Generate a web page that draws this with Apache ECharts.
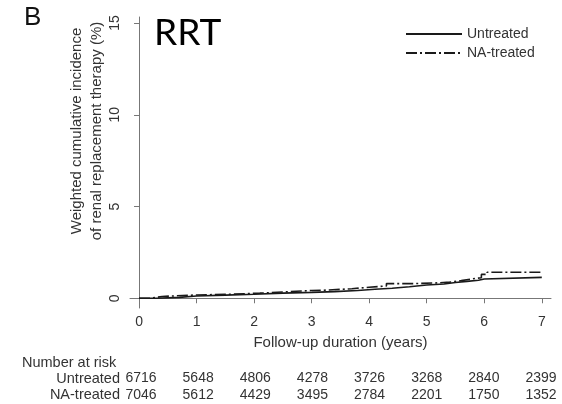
<!DOCTYPE html>
<html>
<head>
<meta charset="utf-8">
<script src="https://cdn.jsdelivr.net/npm/echarts@6/dist/echarts.min.js"></script>
<style>
  html, body { margin: 0; padding: 0; background: #fff; }
  #chart { width: 562px; height: 404px; }
</style>
</head>
<body>
<div id="chart"></div>
<script>
// Weighted cumulative incidence of RRT (%), step curves by follow-up year
const untreatedTimes  = [0, 0.3, 0.7, 1.0, 1.5, 2.0, 2.5, 3.0, 3.4, 3.8, 4.1, 4.4, 4.7, 5.0, 5.3, 5.5, 5.7, 5.9, 6.0, 7.0];
const untreatedValues = [0, 0.05, 0.12, 0.17, 0.22, 0.28, 0.32, 0.36, 0.42, 0.49, 0.55, 0.63, 0.72, 0.78, 0.86, 0.92, 0.98, 1.05, 1.14, 1.14];
const treatedTimes    = [0, 0.2, 0.4, 1.0, 1.6, 2.1, 2.6, 3.0, 3.3, 3.7, 4.0, 4.3, 4.8, 5.2, 5.4, 5.6, 5.8, 5.95, 6.05, 7.0];
const treatedValues   = [0, 0.10, 0.18, 0.22, 0.28, 0.36, 0.42, 0.45, 0.52, 0.60, 0.67, 0.80, 0.84, 0.88, 0.96, 1.06, 1.12, 1.30, 1.42, 1.42];

// Axis ticks
const xTicks = [0, 1, 2, 3, 4, 5, 6, 7];
const yTicks = [0, 5, 10, 15];

// Number at risk by year
const riskYears     = [0, 1, 2, 3, 4, 5, 6, 7];
const riskUntreated = [6716, 5648, 4806, 4278, 3726, 3268, 2840, 2399];
const riskTreated   = [7046, 5612, 4429, 3495, 2784, 2201, 1750, 1352];

const seriesNames = ['Untreated', 'NA-treated'];

const pairs = (t, v) => t.map((x, i) => [x, v[i]]);

const FONT = '"Liberation Sans", Arial, sans-serif';
const TXT = '#333';
const AX = '#777';

const chart = echarts.init(document.getElementById('chart'), null, { renderer: 'canvas' });

chart.setOption({
  animation: false,
  backgroundColor: '#fff',
  textStyle: { fontFamily: FONT },
  grid: [
    { left: 130, right: 11, top: 17, bottom: 96, containLabel: false },
    { left: 141, right: 21, top: 387, height: 1, show: false }
  ],
  legend: {
    orient: 'vertical',
    left: 400,
    top: 22,
    itemWidth: 56,
    itemHeight: 12,
    itemGap: 5,
    data: seriesNames,
    itemStyle: { opacity: 0 },
    textStyle: { color: TXT, fontSize: 14, fontFamily: FONT }
  },
  xAxis: [
    {
      type: 'value', gridIndex: 0,
      min: -0.157, max: 7.16,
      name: 'Follow-up duration (years)',
      nameLocation: 'middle', nameGap: 27,
      nameTextStyle: { color: TXT, fontSize: 15, fontFamily: FONT },
      splitLine: { show: false },
      axisLine: { show: true, lineStyle: { color: AX, width: 1 } },
      axisTick: { show: true, length: 5, customValues: xTicks, lineStyle: { color: AX } },
      axisLabel: { customValues: xTicks, color: TXT, fontSize: 14, margin: 7, fontFamily: FONT }
    },
    {
      type: 'category', gridIndex: 1, position: 'top',
      data: riskYears.map((y, i) => String(riskUntreated[i])),
      boundaryGap: false,
      axisLine: { show: false }, axisTick: { show: false }, splitLine: { show: false },
      axisLabel: { interval: 0, color: TXT, fontSize: 14, margin: 2, fontFamily: FONT }
    },
    {
      type: 'category', gridIndex: 1, position: 'bottom',
      data: riskYears.map((y, i) => String(riskTreated[i])),
      boundaryGap: false,
      axisLine: { show: false }, axisTick: { show: false }, splitLine: { show: false },
      axisLabel: { interval: 0, color: TXT, fontSize: 14, margin: 0, fontFamily: FONT }
    }
  ],
  yAxis: [
    {
      type: 'value', gridIndex: 0,
      min: -0.53, max: 15.33,
      splitLine: { show: false },
      axisLine: { show: true, lineStyle: { color: AX, width: 1 } },
      axisTick: { show: true, length: 5, customValues: yTicks, lineStyle: { color: AX } },
      axisLabel: { customValues: yTicks, rotate: 90, color: TXT, fontSize: 14, margin: 8, fontFamily: FONT }
    },
    {
      type: 'value', gridIndex: 1, show: false
    }
  ],
  series: [
    {
      name: seriesNames[0], type: 'line', xAxisIndex: 0, yAxisIndex: 0,
      step: 'end', symbol: 'none',
      data: pairs(untreatedTimes, untreatedValues),
      lineStyle: { color: '#1a1a1a', width: 1.6 },
      itemStyle: { color: '#1a1a1a' }
    },
    {
      name: seriesNames[1], type: 'line', xAxisIndex: 0, yAxisIndex: 0,
      step: 'end', symbol: 'none',
      data: pairs(treatedTimes, treatedValues),
      lineStyle: { color: '#1a1a1a', width: 1.6, type: [11, 3, 2, 3] },
      itemStyle: { color: '#1a1a1a' }
    }
  ],
  graphic: [
    { type: 'text', left: 24, top: 5, style: { text: 'B', font: '26px ' + FONT, fill: '#111' } },
    { type: 'text', left: 154, top: 15, style: { text: 'RRT', font: '37px Lato, "Open Sans", sans-serif', fill: '#000' } },
    {
      type: 'text', x: 87, y: 131, rotation: Math.PI / 2,
      style: {
        text: 'Weighted cumulative incidence\nof renal replacement therapy (%)',
        font: '15px ' + FONT, fill: TXT, align: 'center', verticalAlign: 'middle', lineHeight: 20
      }
    },
    { type: 'text', x: 22, y: 363, style: { text: 'Number at risk', font: '14.5px ' + FONT, fill: TXT, verticalAlign: 'middle' } },
    { type: 'text', x: 120, y: 379, style: { text: seriesNames[0], font: '14.5px ' + FONT, fill: TXT, align: 'right', verticalAlign: 'middle' } },
    { type: 'text', x: 120, y: 395, style: { text: seriesNames[1], font: '14.5px ' + FONT, fill: TXT, align: 'right', verticalAlign: 'middle' } }
  ]
});
</script>
</body>
</html>
